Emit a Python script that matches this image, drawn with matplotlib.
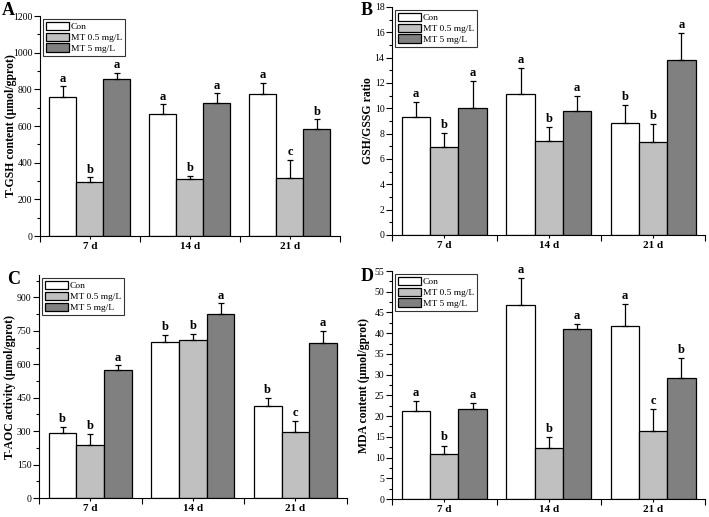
import numpy as np
import matplotlib
matplotlib.use('agg')
import matplotlib.pyplot as plt
from matplotlib.ticker import MultipleLocator

plt.rcParams['font.family'] = ['Liberation Serif', 'DejaVu Serif']

# 数据
days = ['7 d', '14 d', '21 d']
groups = ['Con', 'MT 0.5 mg/L', 'MT 5 mg/L']
colors = ['#ffffff', '#c0c0c0', '#808080']

# A: T-GSH
gsh_mean = [[756, 667, 776], [296, 309, 318], [855, 725, 582]]
gsh_err = [[62, 51, 59], [24, 20, 97], [36, 53, 54]]
gsh_sig = [['a', 'a', 'a'], ['b', 'b', 'c'], ['a', 'a', 'b']]

# B: GSH/GSSG
ratio_mean = [[9.29, 11.1, 8.87], [6.93, 7.38, 7.32], [10.0, 9.82, 13.78]]
ratio_err = [[1.23, 2.1, 1.39], [1.1, 1.12, 1.47], [2.13, 1.15, 2.2]]
ratio_sig = [['a', 'a', 'b'], ['b', 'b', 'b'], ['a', 'a', 'a']]

# C: T-AOC
aoc_mean = [[293, 702, 415], [237, 711, 296], [576, 826, 696]]
aoc_err = [[25, 30, 36], [52, 27, 49], [19, 47, 54]]
aoc_sig = [['b', 'b', 'b'], ['b', 'b', 'c'], ['a', 'a', 'a']]

# D: MDA
mda_mean = [[21.2, 46.7, 41.8], [10.9, 12.3, 16.4], [21.6, 41.0, 29.2]]
mda_err = [[2.5, 6.5, 5.3], [2.0, 2.6, 5.3], [1.6, 1.2, 4.7]]
mda_sig = [['a', 'a', 'a'], ['b', 'b', 'c'], ['a', 'a', 'b']]


def draw(ax, mean, err, sig, ylim, major, minor, ylabel, off, labx):
    x = np.arange(len(days))
    w = 0.27
    for i in range(3):
        xi = x + (i - 1) * w
        m = np.array(mean[i])
        e = np.array(err[i])
        ax.bar(xi, m, w, color=colors[i], edgecolor='black', linewidth=0.9,
               label=groups[i], zorder=2)
        ax.errorbar(xi, m, yerr=[np.zeros(3), e], fmt='none', ecolor='black',
                    elinewidth=0.9, capsize=2.2, capthick=0.9, zorder=3)
        for j in range(3):
            ax.text(xi[j], m[j] + e[j] + off, sig[i][j], ha='center', va='bottom',
                    fontsize=9, fontweight='bold')
    ax.set_xlim(-0.5, 2.5)
    ax.set_ylim(*ylim)
    ax.set_xticks(x)
    ax.set_xticklabels(days, fontweight='bold', fontsize=8)
    ax.xaxis.set_minor_locator(MultipleLocator(0.5))
    ax.yaxis.set_major_locator(MultipleLocator(major))
    ax.yaxis.set_minor_locator(MultipleLocator(minor))
    ax.tick_params(axis='y', labelsize=7, length=4, width=0.8, direction='out', pad=1.5)
    ax.tick_params(axis='y', which='minor', length=2.5, width=0.8)
    ax.tick_params(axis='x', length=4, width=0.8, direction='inout', pad=2)
    ax.tick_params(axis='x', which='minor', length=4, width=0.8, direction='out')
    ax.spines['top'].set_visible(False)
    ax.spines['right'].set_visible(False)
    ax.set_ylabel(ylabel, fontweight='bold', fontsize=8.5)
    ax.yaxis.set_label_coords(labx, 0.5)
    leg = ax.legend(loc='upper left', fontsize=6.8, frameon=True, fancybox=False,
                    edgecolor='black', handlelength=2.5, handleheight=1.0,
                    handletextpad=0.15, labelspacing=0.15, borderpad=0.3,
                    borderaxespad=0.3)
    leg.get_frame().set_linewidth(0.8)


fig = plt.figure(figsize=(7.09, 5.17), dpi=100)
axA = fig.add_axes([0.0564, 0.5435, 0.423, 0.4255])
axB = fig.add_axes([0.553, 0.5455, 0.442, 0.441])
axC = fig.add_axes([0.055, 0.0367, 0.434, 0.431])
axD = fig.add_axes([0.553, 0.0348, 0.442, 0.441])

draw(axA, gsh_mean, gsh_err, gsh_sig, (0, 1200), 200, 100,
     'T-GSH content (μmol/gprot)', 8, -0.075)
draw(axB, ratio_mean, ratio_err, ratio_sig, (0, 18), 2, 1,
     'GSH/GSSG ratio', 0.15, -0.059)
draw(axC, aoc_mean, aoc_err, aoc_sig, (0, 1000), 150, 75,
     'T-AOC activity (μmol/gprot)', 8, -0.076)
draw(axD, mda_mean, mda_err, mda_sig, (0, 55), 5, 2.5,
     'MDA content (μmol/gprot)', 0.5, -0.069)

fig.text(0.002, 0.997, 'A', fontsize=13, fontweight='bold', va='top')
fig.text(0.509, 0.997, 'B', fontsize=13, fontweight='bold', va='top')
fig.text(0.010, 0.476, 'C', fontsize=13, fontweight='bold', va='top')
fig.text(0.509, 0.482, 'D', fontsize=13, fontweight='bold', va='top')

fig.savefig('out.png', dpi=100)
